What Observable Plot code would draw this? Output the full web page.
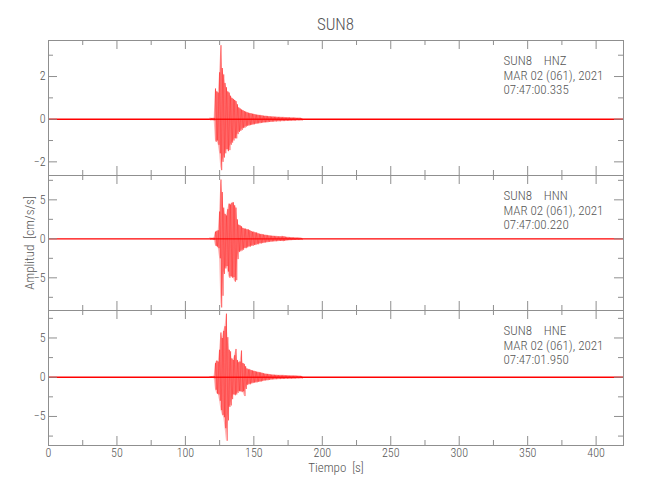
<!DOCTYPE html>
<html>
<head>
<meta charset="utf-8">
<script src="https://cdn.jsdelivr.net/npm/d3@7"></script>
<script src="https://cdn.jsdelivr.net/npm/@observablehq/plot@0.6"></script>
<style>
  html, body { margin: 0; padding: 0; background: #fff; }
  #wrap { position: relative; width: 650px; height: 500px; overflow: hidden;
          font-family: "Roboto Condensed", "DejaVu Sans Condensed", "Liberation Sans Narrow", sans-serif; }
  #title { position: absolute; left: 48px; width: 575px; top: 14px; line-height: 20px;
           text-align: center; font-size: 17px; font-weight: 300; color: #555; }
  .panel { position: absolute; left: 0; }
</style>
</head>
<body>
<div id="wrap"><div id="title">SUN8</div></div>
<script>
// ---------- data ----------
const station = "SUN8";
const channels = ["HNZ", "HNN", "HNE"];
const dateText = "MAR 02 (061), 2021";
const startTimes = ["07:47:00.335", "07:47:00.220", "07:47:01.950"];
const xLabel = "Tiempo\u00a0\u00a0[s]";
const yLabel = "Amplitud\u00a0\u00a0[cm/s/s]";

const xDomain = [0, 420];
const xMajor = [0, 50, 100, 150, 200, 250, 300, 350, 400];
const xMinor = [25, 75, 125, 175, 225, 275, 325, 375];

const yDomainZ = [-2.64, 3.69];
const yDomainN = [-9.19, 8.12];
const yDomainE = [-8.7, 8.5];
const yMajorZ = [-2, 0, 2];
const yMinorZ = [-1, 1, 3];
const yMajorNE = [-5, 0, 5];
const yMinorNE = [-7.5, -2.5, 2.5, 7.5];

// envelope of the trace, one value per second from t = 118 s to t = 185 s
const envStart = 118;
const upZ = [
  0.05,0.05,0.05,0.06,1.44,1.30,1.25,2.20,3.47,2.40,
  2.10,1.70,1.50,1.30,1.25,1.10,1.00,0.95,0.90,0.85,
  0.70,0.55,0.50,0.45,0.42,0.38,0.35,0.32,0.30,0.28,
  0.27,0.25,0.24,0.22,0.21,0.20,0.19,0.18,0.17,0.16,
  0.15,0.15,0.14,0.13,0.13,0.12,0.12,0.11,0.11,0.10,
  0.10,0.10,0.09,0.09,0.09,0.08,0.08,0.08,0.08,0.07,
  0.07,0.07,0.07,0.06,0.06,0.06,0.06,0.05];
const loZ = [
  -0.05,-0.05,-0.05,-0.06,-1.06,-1.00,-1.20,-1.60,-2.39,-2.00,
  -1.80,-1.60,-1.40,-1.50,-1.45,-1.20,-1.10,-1.00,-0.90,-0.90,
  -0.70,-0.60,-0.55,-0.50,-0.42,-0.40,-0.35,-0.32,-0.30,-0.28,
  -0.27,-0.25,-0.24,-0.22,-0.21,-0.20,-0.19,-0.18,-0.17,-0.16,
  -0.15,-0.15,-0.14,-0.13,-0.13,-0.12,-0.12,-0.11,-0.11,-0.10,
  -0.10,-0.10,-0.09,-0.09,-0.09,-0.08,-0.08,-0.08,-0.08,-0.07,
  -0.07,-0.07,-0.07,-0.06,-0.06,-0.06,-0.06,-0.05];
const upN = [
  0.10,0.10,0.10,0.15,0.90,1.00,1.10,3.50,7.60,6.00,
  4.00,3.20,3.00,3.80,4.50,4.40,4.60,4.70,4.30,4.00,
  2.50,1.80,1.70,1.60,1.40,1.30,1.30,1.20,1.20,1.10,
  1.00,0.90,0.90,0.80,0.80,0.70,0.65,0.60,0.58,0.55,
  0.50,0.48,0.45,0.42,0.40,0.38,0.36,0.35,0.33,0.32,
  0.30,0.30,0.30,0.32,0.30,0.26,0.22,0.20,0.19,0.18,
  0.17,0.16,0.15,0.14,0.14,0.13,0.12,0.12];
const loN = [
  -0.10,-0.10,-0.10,-0.15,-0.90,-1.00,-1.20,-2.50,-8.80,-7.30,
  -4.50,-3.80,-3.50,-4.20,-5.00,-4.80,-5.00,-4.90,-5.50,-5.30,
  -2.60,-1.70,-1.60,-1.50,-1.40,-1.20,-1.20,-1.10,-1.00,-1.00,
  -0.90,-0.90,-0.80,-0.80,-0.70,-0.70,-0.60,-0.60,-0.55,-0.52,
  -0.48,-0.45,-0.42,-0.40,-0.38,-0.36,-0.34,-0.33,-0.32,-0.30,
  -0.28,-0.28,-0.28,-0.30,-0.28,-0.24,-0.20,-0.19,-0.18,-0.17,
  -0.16,-0.15,-0.14,-0.13,-0.13,-0.12,-0.12,-0.11];
const upE = [
  0.10,0.10,0.10,0.15,1.80,2.10,2.00,3.50,5.70,5.00,
  5.90,6.50,8.10,5.10,3.50,3.30,2.40,2.20,2.80,3.60,
  2.20,1.90,2.00,3.40,1.80,1.70,1.40,1.10,1.00,1.00,
  0.90,0.85,0.80,0.75,0.70,0.65,0.62,0.60,0.55,0.50,
  0.45,0.42,0.40,0.38,0.35,0.32,0.30,0.30,0.28,0.27,
  0.26,0.25,0.25,0.24,0.24,0.23,0.22,0.21,0.20,0.20,
  0.20,0.19,0.19,0.18,0.17,0.16,0.15,0.15];
const loE = [
  -0.10,-0.10,-0.10,-0.15,-1.60,-2.10,-2.20,-3.00,-4.20,-4.80,
  -5.10,-6.50,-8.10,-5.50,-3.80,-3.60,-2.80,-2.20,-2.30,-2.20,
  -2.00,-1.80,-1.80,-1.90,-1.80,-2.40,-1.50,-1.00,-0.90,-0.90,
  -0.80,-0.75,-0.70,-0.68,-0.65,-0.60,-0.58,-0.55,-0.50,-0.45,
  -0.42,-0.40,-0.38,-0.35,-0.32,-0.30,-0.28,-0.27,-0.26,-0.25,
  -0.24,-0.24,-0.23,-0.23,-0.22,-0.21,-0.21,-0.20,-0.20,-0.19,
  -0.19,-0.18,-0.18,-0.17,-0.16,-0.15,-0.15,-0.14];

// ---------- drawing ----------
const FONT = '"Roboto Condensed","DejaVu Sans Condensed","Liberation Sans Narrow",sans-serif';
const GRAY = "#8f8f8f";
const TXT = "#555";
const RED = "#ff0000";
const W = 650, ML = 48, MR = 27, FW = W - ML - MR, FH = 135, TL = 9, TS = 5;

const panels = [
  {up: upZ, lo: loZ, dom: yDomainZ, major: yMajorZ, minor: yMinorZ, top: 0,   mt: 40, mb: 10, h: 185},
  {up: upN, lo: loN, dom: yDomainN, major: yMajorNE, minor: yMinorNE, top: 165, mt: 10, mb: 10, h: 155},
  {up: upE, lo: loE, dom: yDomainE, major: yMajorNE, minor: yMinorNE, top: 300, mt: 10, mb: 55, h: 200}
];

const wrap = document.getElementById("wrap");

panels.forEach((p, i) => {
  const env = p.up.map((u, k) => ({t: envStart + k, up: u, lo: p.lo[k]}));
  const zig = env.flatMap(d => [{t: d.t, v: d.up}, {t: d.t + 0.5, v: d.lo}]);
  const isLast = i === panels.length - 1;

  const marks = [
    Plot.ruleY([0], {stroke: RED, strokeWidth: 1.4}),
    Plot.areaY(env, {x: "t", y1: "lo", y2: "up", fill: "#ff4d4d", fillOpacity: 0.4, clip: true}),
    Plot.lineY(zig, {x: "t", y: "v", stroke: RED, strokeWidth: 0.45, strokeOpacity: 0.9, clip: true}),
    Plot.frame({stroke: GRAY}),
    // inward ticks, left & right
    Plot.tickY(p.major, {insetRight: FW - TL, stroke: GRAY}),
    Plot.tickY(p.minor, {insetRight: FW - TS, stroke: GRAY}),
    Plot.tickY(p.major, {insetLeft: FW - TL, stroke: GRAY}),
    Plot.tickY(p.minor, {insetLeft: FW - TS, stroke: GRAY}),
    // inward ticks, top & bottom
    Plot.tickX(xMajor, {insetTop: FH - TL, stroke: GRAY}),
    Plot.tickX(xMinor, {insetTop: FH - TS, stroke: GRAY}),
    Plot.tickX(xMajor, {insetBottom: FH - TL, stroke: GRAY}),
    Plot.tickX(xMinor, {insetBottom: FH - TS, stroke: GRAY}),
    Plot.axisY(p.major, {anchor: "left", tickSize: 0, tickPadding: 3, fontSize: 12, fill: TXT, label: null}),
    Plot.text([[`${station}\u00a0\u00a0\u00a0\u00a0${channels[i]}`, dateText, startTimes[i]].join("\n")], {
      frameAnchor: "top-left", dx: 455, dy: 15, textAnchor: "start", lineAnchor: "top",
      lineHeight: 1.08, fontSize: 13, fill: TXT
    })
  ];
  if (i === 1) {
    marks.push(Plot.text([yLabel], {frameAnchor: "left", dx: -19, rotate: -90, textAnchor: "middle", fontSize: 13, fill: TXT}));
  }
  if (isLast) {
    marks.push(Plot.axisX(xMajor, {anchor: "bottom", tickSize: 0, tickPadding: 3, fontSize: 12, fill: TXT, label: null}));
    marks.push(Plot.text([xLabel], {frameAnchor: "bottom", dy: 26, fontSize: 13, fill: TXT}));
  }

  const svg = Plot.plot({
    width: W, height: p.h,
    marginLeft: ML, marginRight: MR, marginTop: p.mt, marginBottom: p.mb,
    x: {domain: xDomain, ...(isLast ? {} : {axis: null})},
    y: {domain: p.dom},
    style: {background: "transparent", overflow: "visible", fontFamily: FONT, fontWeight: 300, color: TXT},
    marks
  });
  svg.classList.add("panel");
  svg.style.top = p.top + "px";
  wrap.appendChild(svg);
});
</script>
</body>
</html>
